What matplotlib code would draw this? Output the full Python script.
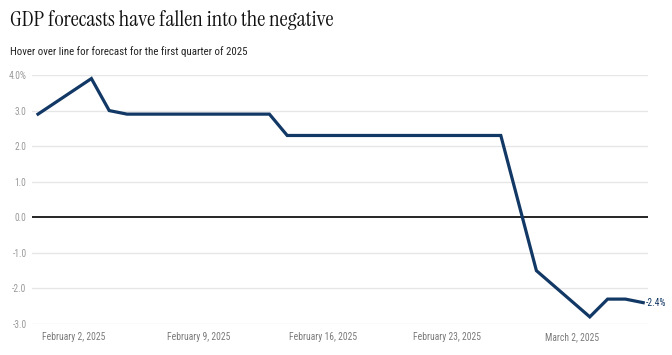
import matplotlib
matplotlib.use("Agg")
import matplotlib.pyplot as plt
from datetime import datetime, timedelta

# ---- data ----
dates = ["2025-01-31", "2025-02-03", "2025-02-04", "2025-02-05", "2025-02-13",
         "2025-02-14", "2025-02-26", "2025-02-28", "2025-03-03", "2025-03-04",
         "2025-03-05", "2025-03-06"]
gdp = [2.9, 3.9, 3.0, 2.9, 2.9, 2.3, 2.3, -1.5, -2.8, -2.3, -2.3, -2.4]
tick_dates = ["2025-02-02", "2025-02-09", "2025-02-16", "2025-02-23", "2025-03-02"]
tick_labels = ["February 2, 2025", "February 9, 2025", "February 16, 2025",
               "February 23, 2025", "March 2, 2025"]
y_ticks = [-3, -2, -1, 0, 1, 2, 3, 4]
y_labels = ["-3.0", "-2.0", "-1.0", "0.0", "1.0", "2.0", "3.0", "4.0%"]

title = "GDP forecasts have fallen into the negative"
subtitle = "Hover over line for forecast for the first quarter of 2025"

NAVY = "#123865"
GRID = "#e6e6e6"
YTICK = "#9a9a9a"
XTICK = "#7a7a7a"

SANS_C = ["Roboto Condensed", "Barlow Condensed", "Fira Sans Condensed", "DejaVu Sans"]
SERIF_C = ["Instrument Serif", "Noto Serif Display", "DejaVu Serif"]

x = [datetime.strptime(d, "%Y-%m-%d") for d in dates]
xt = [datetime.strptime(d, "%Y-%m-%d") for d in tick_dates]

W, H = 672, 355
fig = plt.figure(figsize=(W / 100, H / 100), dpi=100)
ax = fig.add_axes([32 / W, 1 - 324 / H, (648 - 32) / W, (324 - 75) / H])

ax.plot(x, gdp, color=NAVY, lw=2.3, solid_joinstyle="miter", clip_on=False, zorder=3)

ax.set_ylim(-3, 4)
x0 = x[0]
ax.set_xlim(x0 - timedelta(days=6 / 17.8), x0 + timedelta(days=(648 - 38) / 17.8))

for yv in y_ticks:
    if yv == 0:
        ax.axhline(0, color="black", lw=1.2, zorder=2)
    else:
        ax.axhline(yv, color=GRID, lw=1.0, zorder=1)

for s in ax.spines.values():
    s.set_visible(False)

ax.set_yticks(y_ticks)
ylabs = ax.set_yticklabels(y_labels, fontsize=7.5, color=YTICK, family=SANS_C)
ax.set_xticks(xt)
xlabs = ax.set_xticklabels(tick_labels, fontsize=7.5, color=XTICK, family=SANS_C)
ax.tick_params(axis="both", length=0)
ax.tick_params(axis="y", pad=4)
ax.tick_params(axis="x", pad=6)

end_lab = ax.annotate(f"{gdp[-1]:.1f}%", xy=(x[-1], gdp[-1]), xytext=(2, 0),
                      textcoords="offset points", va="center", ha="left",
                      fontsize=7.5, color=NAVY, family=SANS_C)

t1 = fig.text(10 / W, 1 - 20 / H, title, fontsize=17, family=SERIF_C,
              color="#111111", va="center", ha="left")
t2 = fig.text(10 / W, 1 - 52 / H, subtitle, fontsize=8.3, family=SANS_C,
              color="#222222", va="center", ha="left")

# fit text sizes to widths measured on the reference
fig.canvas.draw()
r = fig.canvas.get_renderer()
def scale_for(t, target):
    return t.get_fontsize() * target / t.get_window_extent(r).width
t1.set_fontsize(scale_for(t1, 324))
t2.set_fontsize(scale_for(t2, 236))
fs_x = scale_for(xlabs[0], 63)
for t in xlabs:
    t.set_fontsize(fs_x)
fs_y = scale_for(ylabs[-1], 18)
for t in ylabs:
    t.set_fontsize(fs_y)
end_lab.set_fontsize(fs_y)

fig.savefig("out.png", dpi=100)
